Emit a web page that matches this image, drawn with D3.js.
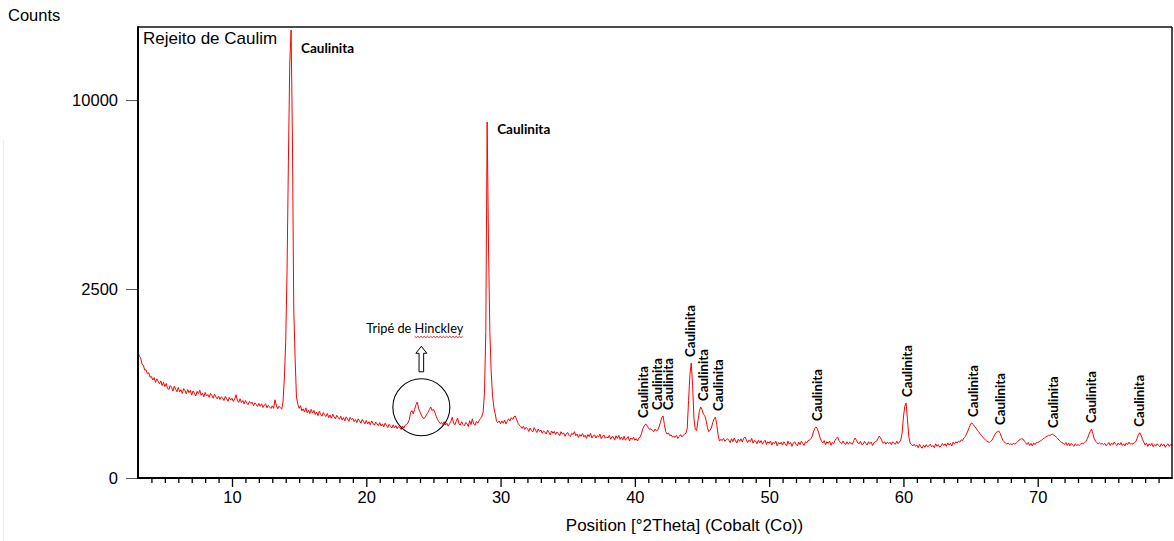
<!DOCTYPE html>
<html>
<head>
<meta charset="utf-8">
<script src="https://cdn.jsdelivr.net/npm/d3@7"></script>
<style>
  html, body { margin: 0; padding: 0; background: #fff; }
  svg { display: block; }
</style>
</head>
<body>
<svg id="chart" width="1174" height="541"></svg>
<script>
// ---- Scan data: XRD pattern, Co Kα radiation ----
// first angle and step of the scan (°2θ); one count value per step
const scanStart = 3.0;
const scanStep = 0.1;
const counts = [
  1110, 1040, 1010, 905, 890, 815, 820, 760, 775, 710,  // 3°
  720, 672, 705, 640, 688, 655, 622, 660, 598, 640,     // 4°
  585, 625, 560, 548, 600, 575, 530, 590, 552, 520,     // 5°
  575, 520, 545, 500, 560, 535, 495, 548, 510, 538,     // 6°
  480, 530, 505, 470, 525, 498, 540, 478, 505, 462,     // 7°
  512, 470, 488, 455, 500, 478, 445, 492, 460, 438,     // 8°
  470, 432, 462, 448, 420, 465, 440, 412, 455, 425,     // 9°
  445, 410, 438, 485, 425, 400, 440, 398, 420, 385,     // 10°
  420, 392, 375, 410, 388, 402, 365, 395, 380, 358,     // 11°
  390, 360, 385, 348, 372, 385, 345, 370, 352, 338,     // 12°
  365, 340, 428, 372, 335, 360, 345, 332, 404, 700,     // 13°
  1300, 3000, 7000, 12000, 14050, 8000, 2000, 1000, 460, 380, // 14°
  340, 365, 315, 335, 305, 345, 298, 322, 290, 330,     // 15°
  295, 320, 282, 305, 272, 312, 285, 268, 300, 275,     // 16°
  265, 292, 255, 278, 250, 285, 262, 245, 275, 258,     // 17°
  242, 268, 235, 255, 228, 262, 245, 225, 258, 240,     // 18°
  248, 222, 238, 215, 245, 228, 210, 240, 222, 205,     // 19°
  232, 205, 222, 198, 228, 210, 195, 220, 205, 192,     // 20°
  215, 190, 205, 182, 210, 195, 178, 202, 188, 175,     // 21°
  198, 175, 192, 170, 186, 178, 165, 190, 175, 195,     // 22°
  200, 212, 238, 300, 318, 288, 330, 375, 404, 335,     // 23°
  305, 278, 255, 246, 262, 288, 300, 328, 353, 318,     // 24°
  330, 305, 268, 240, 222, 208, 215, 200, 222, 196,     // 25°
  210, 188, 205, 225, 258, 212, 198, 225, 252, 205,     // 26°
  195, 222, 200, 190, 215, 208, 185, 230, 200, 245,     // 27°
  205, 195, 225, 210, 230, 248, 262, 305, 500, 1500,    // 28°
  8870, 3800, 1500, 800, 480, 350, 290, 225, 215, 228,  // 29°
  205, 228, 210, 235, 205, 225, 245, 228, 255, 240,     // 30°
  262, 269, 238, 210, 195, 185, 172, 188, 165, 180,     // 31°
  170, 152, 175, 158, 148, 178, 160, 145, 168, 152,     // 32°
  162, 140, 155, 148, 135, 160, 145, 130, 155, 140,     // 33°
  152, 132, 148, 138, 125, 150, 135, 142, 122, 138,     // 34°
  145, 128, 120, 140, 132, 150, 125, 135, 115, 132,     // 35°
  122, 138, 118, 128, 110, 132, 120, 140, 112, 125,     // 36°
  130, 112, 125, 118, 135, 108, 122, 130, 110, 118,     // 37°
  112, 128, 105, 120, 118, 100, 125, 110, 128, 104,     // 38°
  118, 102, 122, 100, 110, 120, 96, 112, 104, 116,      // 39°
  100, 108, 96, 112, 118, 140, 172, 190, 204, 195,      // 40°
  178, 165, 170, 158, 150, 168, 155, 160, 182, 215,     // 41°
  255, 270, 200, 150, 135, 142, 125, 130, 118, 122,     // 42°
  115, 128, 110, 120, 132, 118, 128, 135, 140, 170,     // 43°
  420, 750, 926, 600, 250, 165, 158, 230, 310, 353,     // 44°
  330, 285, 275, 235, 180, 150, 160, 175, 215, 245,     // 45°
  260, 200, 130, 95, 105, 98, 110, 95, 102, 108,        // 46°
  100, 88, 108, 92, 112, 96, 86, 105, 94, 108,          // 47°
  90, 110, 118, 102, 88, 100, 92, 110, 85, 98,          // 48°
  95, 82, 100, 86, 98, 80, 92, 100, 78, 92,             // 49°
  84, 96, 76, 90, 82, 95, 72, 88, 80, 90,               // 50°
  76, 92, 82, 72, 95, 80, 88, 70, 86, 92,               // 51°
  80, 72, 90, 78, 95, 84, 74, 92, 86, 98,               // 52°
  100, 108, 120, 150, 172, 182, 168, 140, 112, 95,      // 53°
  86, 98, 78, 92, 84, 95, 75, 88, 82, 98,               // 54°
  110, 118, 98, 88, 82, 96, 84, 78, 92, 80,             // 55°
  90, 84, 80, 98, 112, 100, 86, 82, 94, 78,             // 56°
  80, 94, 84, 76, 92, 82, 90, 74, 86, 92,               // 57°
  95, 110, 123, 112, 96, 84, 92, 80, 90, 82,            // 58°
  90, 78, 92, 84, 80, 95, 82, 90, 100, 140,             // 59°
  260, 360, 394, 240, 120, 85, 78, 72, 80, 70,          // 60°
  76, 64, 80, 68, 62, 76, 66, 78, 68, 72,               // 61°
  80, 68, 74, 64, 82, 70, 78, 66, 72, 84,               // 62°
  74, 82, 70, 86, 76, 84, 72, 90, 80, 92,               // 63°
  86, 95, 90, 102, 98, 112, 120, 135, 155, 180,         // 64°
  205, 212, 200, 185, 175, 160, 150, 138, 128, 118,     // 65°
  110, 102, 96, 92, 88, 95, 100, 115, 132, 145,         // 66°
  150, 155, 140, 118, 100, 92, 85, 80, 86, 78,          // 67°
  82, 78, 85, 80, 86, 92, 100, 105, 108, 106,           // 68°
  96, 88, 78, 88, 74, 84, 72, 86, 78, 88,               // 69°
  88, 92, 96, 100, 108, 112, 118, 122, 128, 125,        // 70°
  132, 135, 128, 124, 115, 108, 100, 92, 88, 84,        // 71°
  78, 88, 74, 86, 72, 84, 76, 70, 82, 74,               // 72°
  78, 74, 80, 86, 82, 88, 95, 108, 130, 150,            // 73°
  168, 140, 110, 95, 88, 82, 86, 80, 84, 78,            // 74°
  84, 72, 80, 88, 74, 86, 78, 90, 80, 74,               // 75°
  86, 76, 88, 74, 82, 72, 86, 78, 90, 80,               // 76°
  84, 80, 88, 92, 110, 130, 144, 128, 105, 90,          // 77°
  76, 86, 70, 82, 74, 84, 68, 78, 72, 82,               // 78°
  74, 68, 82, 72, 80, 66, 76, 82, 70, 78,               // 79°
  76                                                    // 80°
];

// axis ticks
const yTickValues = [0, 2500, 10000];
const xMajorTicks = [10, 20, 30, 40, 50, 60, 70];
const xMinorTicks = d3.range(4, 80);

// texts
const sampleName = "Rejeito de Caulim";
const yTitle = "Counts";
const xTitle = "Position [°2Theta] (Cobalt (Co))";
const phaseName = "Caulinita";
const tripletNote = "Tripé de Hinckley";

// identified kaolinite reflections (°2θ)
const mainPeakAngles = [14.4, 29.0];
const minorPeakAngles = [40.61, 41.65, 42.47, 44.11, 45.08, 46.19,
                         53.57, 60.27, 65.18, 67.19, 71.14, 73.97, 77.55];
// centre of the Hinckley triplet region (°2θ, counts)
const tripletCentre = [24.1, 350];

// ---- drawing ----
const W = 1174, H = 541;
const plot = { left: 138, right: 1172, top: 27, bottom: 478 };

const scan = counts.map((c, i) => ({ angle: +(scanStart + i * scanStep).toFixed(2), count: c }));

const x = d3.scaleLinear().domain([3, 80]).range([plot.left, plot.right]);
const y = d3.scaleSqrt().domain([0, 14240]).range([plot.bottom, plot.top]);

const svg = d3.select("#chart");
svg.append("rect").attr("width", W).attr("height", H).attr("fill", "#fff");

// faint page edge at the left
svg.append("line")
  .attr("x1", 3.5).attr("x2", 3.5).attr("y1", 140).attr("y2", H)
  .attr("stroke", "#ececec").attr("stroke-width", 1);

const sansFont = "'Liberation Sans', Arial, Helvetica, sans-serif";
const labelFont = "Lato, 'Open Sans', sans-serif";

// clip for the trace
svg.append("clipPath").attr("id", "plotClip")
  .append("rect")
  .attr("x", plot.left).attr("y", plot.top)
  .attr("width", plot.right - plot.left).attr("height", plot.bottom - plot.top);

// diffraction trace
const line = d3.line().x(d => x(d.angle)).y(d => y(d.count));
svg.append("path")
  .datum(scan)
  .attr("clip-path", "url(#plotClip)")
  .attr("fill", "none")
  .attr("stroke", "#ff0000")
  .attr("stroke-width", 1)
  .attr("stroke-linejoin", "round")
  .attr("d", line);

// y axis
const yAxis = svg.append("g")
  .attr("transform", `translate(${plot.left},0)`)
  .call(d3.axisLeft(y).tickValues(yTickValues).tickSize(12).tickPadding(8).tickFormat(d3.format("d")));
yAxis.select(".domain").remove();
yAxis.selectAll(".tick line").attr("stroke", "#555").attr("stroke-width", 1);
yAxis.selectAll(".tick text")
  .attr("fill", "#000")
  .style("font-family", sansFont)
  .style("font-size", "16.5px");

// x axis: minor then major ticks
const xMinor = svg.append("g")
  .attr("transform", `translate(0,${plot.bottom})`)
  .call(d3.axisBottom(x).tickValues(xMinorTicks.filter(v => !xMajorTicks.includes(v))).tickSize(5).tickFormat(""));
xMinor.select(".domain").remove();
xMinor.selectAll(".tick line").attr("stroke", "#000").attr("stroke-width", 1.3);

const xMajor = svg.append("g")
  .attr("transform", `translate(0,${plot.bottom})`)
  .call(d3.axisBottom(x).tickValues(xMajorTicks).tickSize(9).tickPadding(8).tickFormat(d3.format("d")));
xMajor.select(".domain").remove();
xMajor.selectAll(".tick line").attr("stroke", "#000").attr("stroke-width", 1.3);
xMajor.selectAll(".tick text")
  .attr("fill", "#000")
  .attr("dy", "0.71em")
  .attr("y", 13)
  .style("font-family", sansFont)
  .style("font-size", "16.5px");

// plot frame
svg.append("line").attr("x1", plot.left).attr("x2", plot.right).attr("y1", plot.top).attr("y2", plot.top)
  .attr("stroke", "#111").attr("stroke-width", 1.5);
svg.append("line").attr("x1", plot.right).attr("x2", plot.right).attr("y1", plot.top).attr("y2", plot.bottom)
  .attr("stroke", "#111").attr("stroke-width", 1.5);
svg.append("line").attr("x1", plot.left).attr("x2", plot.left).attr("y1", plot.top - 0.75).attr("y2", plot.bottom + 1)
  .attr("stroke", "#000").attr("stroke-width", 2);
svg.append("line").attr("x1", plot.left - 1).attr("x2", plot.right + 0.75).attr("y1", plot.bottom).attr("y2", plot.bottom)
  .attr("stroke", "#000").attr("stroke-width", 2);

// titles
svg.append("text").text(yTitle)
  .attr("x", 8).attr("y", 21)
  .style("font-family", sansFont).style("font-size", "16.5px");
svg.append("text").text(sampleName)
  .attr("x", 143).attr("y", 44)
  .style("font-family", sansFont).style("font-size", "17px");
svg.append("text").text(xTitle)
  .attr("x", 684.5).attr("y", 531).attr("text-anchor", "middle")
  .style("font-family", sansFont).style("font-size", "17px");

// local maximum of the scan around an angle
function localMax(angle, halfWidth) {
  return d3.max(scan.filter(d => Math.abs(d.angle - angle) <= halfWidth), d => d.count);
}

// main reflections: horizontal labels beside the peak tip
const mainLabelDrop = [23, 12];
svg.selectAll(".main-label")
  .data(mainPeakAngles)
  .join("text")
  .attr("class", "main-label")
  .attr("x", d => x(d) + 10)
  .attr("y", (d, i) => y(localMax(d, 0.3)) + mainLabelDrop[i])
  .text(phaseName)
  .style("font-family", labelFont)
  .style("font-weight", "700")
  .style("font-size", "13.5px");

// minor reflections: vertical labels above the peaks
svg.selectAll(".minor-label")
  .data(minorPeakAngles)
  .join("text")
  .attr("class", "minor-label")
  .attr("transform", d => `translate(${x(d)},${y(localMax(d, 0.5)) - 6}) rotate(-90)`)
  .attr("dy", "0.36em")
  .text(phaseName)
  .style("font-family", labelFont)
  .style("font-weight", "700")
  .style("font-size", "13.2px");

// Hinckley triplet annotation: circle, hollow arrow and note
const cx = x(tripletCentre[0]), cy = y(tripletCentre[1]);
svg.append("circle")
  .attr("cx", cx).attr("cy", cy).attr("r", 28.5)
  .attr("fill", "none").attr("stroke", "#000").attr("stroke-width", 1.1);

const arrow = [
  [cx, cy - 61], [cx + 5.5, cy - 54], [cx + 2.3, cy - 54], [cx + 2.3, cy - 35.5],
  [cx - 2.3, cy - 35.5], [cx - 2.3, cy - 54], [cx - 5.5, cy - 54]
];
svg.append("path")
  .attr("d", d3.line()(arrow) + "Z")
  .attr("fill", "#fff").attr("stroke", "#000").attr("stroke-width", 1);

const note = svg.append("text")
  .attr("x", cx - 6.5).attr("y", cy - 74)
  .attr("text-anchor", "middle")
  .text(tripletNote)
  .style("font-family", labelFont)
  .style("font-size", "12.8px");

// red wavy underline below "Hinckley"
const noteNode = note.node();
const wordStart = tripletNote.indexOf("Hinckley");
const startPos = noteNode.getStartPositionOfChar(wordStart);
const endPos = noteNode.getEndPositionOfChar(tripletNote.length - 1);
const wave = [];
for (let px = startPos.x, k = 0; px <= endPos.x; px += 1.6, k++) {
  wave.push([px, startPos.y + 3 + (k % 2 ? 1.4 : 0)]);
}
svg.append("path")
  .attr("d", d3.line()(wave))
  .attr("fill", "none").attr("stroke", "#e01010").attr("stroke-width", 0.9);
</script>
</body>
</html>
